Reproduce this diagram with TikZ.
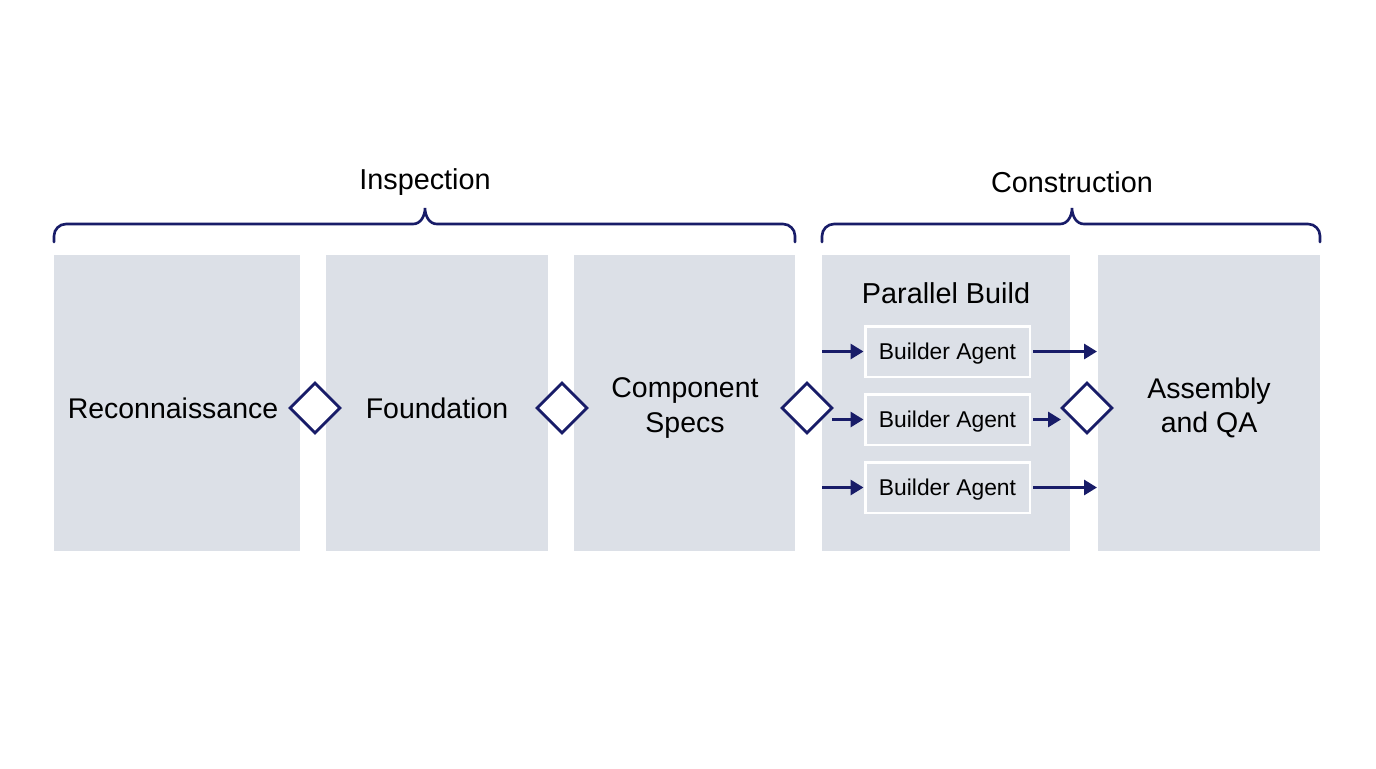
\documentclass[tikz,border=0pt]{standalone}
\usepackage{fontspec}
\setmainfont{Liberation Sans}
\usetikzlibrary{shapes.geometric,arrows.meta}

\definecolor{stagegray}{RGB}{220,224,231}
\definecolor{navy}{RGB}{24,28,104}

\tikzset{
  stage/.style={fill=stagegray, draw=none, minimum height=5.92cm, inner sep=0pt},
  stagetext/.style={align=center, inner sep=0pt, font=\fontsize{16.2}{19.4}\selectfont},
  gate/.style={diamond, draw=navy, fill=white, line width=1.6pt, inner sep=0pt,
    minimum width=1.02cm, minimum height=1.02cm},
  agent/.style={fill=stagegray, draw=white, line width=1.7pt, minimum width=3.3cm,
    minimum height=1.02cm, inner sep=0pt, text height=9.4pt, text depth=0pt,
    font=\fontsize{13}{15}\selectfont},
  flow/.style={draw=navy, line width=1.7pt, -{Triangle[length=0.26cm,width=0.3cm]}},
  brace/.style={draw=navy, line width=1.5pt, line cap=round},
  title/.style={font=\fontsize{16.4}{19.4}\selectfont}
}

\begin{document}
\begin{tikzpicture}[x=0.02cm, y=-0.02cm]
  % canvas, in pixels of the reference
  \useasboundingbox[fill=white] (0,0) rectangle (1376,768);

  % stage columns
  \node[stage, minimum width=4.92cm] (recon) at (177,403) {};
  \node[stage, minimum width=4.44cm] (found) at (437,403) {};
  \node[stage, minimum width=4.42cm] (specs) at (684.5,403) {};
  \node[stage, minimum width=4.96cm] (build) at (946,403) {};
  \node[stage, minimum width=4.44cm] (qa) at (1209,403) {};

  % stage names
  \node[stagetext] (reconlbl) at (173,408) {Reconnaissance};
  \node[stagetext] (foundlbl) at (437,408) {Foundation};
  \node[stagetext] (specslbl) at (685,408) {Component\\Specs};
  \node[stagetext] (qalbl) at (1209,408) {Assembly\\and QA};
  \node[title] (buildlbl) at (946,293) {Parallel Build};

  % gates between stages
  \node[gate] (g1) at (315,408) {};
  \node[gate] (g2) at (562,408) {};
  \node[gate] (g3) at (807,408) {};
  \node[gate] (g4) at (1087,408) {};

  % builder agents
  \node[agent] (b1) at (947.5,351.5) {Builder Agent};
  \node[agent] (b2) at (947.5,419.5) {Builder Agent};
  \node[agent] (b3) at (947.5,487.5) {Builder Agent};

  % arrow ends
  \coordinate (in1) at (822,351.5);
  \coordinate (in2) at (832,419.5);
  \coordinate (in3) at (822,487.5);
  \coordinate (out1) at (1097,351.5);
  \coordinate (out2) at (1061,419.5);
  \coordinate (out3) at (1097,487.5);

  \draw[flow] (in1) -- (b1.west);
  \draw[flow] (in2) -- (b2.west);
  \draw[flow] (in3) -- (b3.west);
  \draw[flow, shorten <=1pt] (b1.east) -- (out1);
  \draw[flow, shorten <=1pt] (b2.east) -- (out2);
  \draw[flow, shorten <=1pt] (b3.east) -- (out3);

  % phase braces
  \draw[brace] (54,242) -- (54,236) to[out=90,in=180] (66,224) -- (413,224)
    to[out=0,in=-90] (425,208) to[out=-90,in=180] (437,224) -- (783,224)
    to[out=0,in=90] (795,236) -- (795,242);
  \draw[brace] (822,242) -- (822,236) to[out=90,in=180] (834,224) -- (1060,224)
    to[out=0,in=-90] (1072,208) to[out=-90,in=180] (1084,224) -- (1308,224)
    to[out=0,in=90] (1320,236) -- (1320,242);

  \node[title] (insp) at (425,182) {Inspection};
  \node[title] (cons) at (1072,182) {Construction};
\end{tikzpicture}
\end{document}
